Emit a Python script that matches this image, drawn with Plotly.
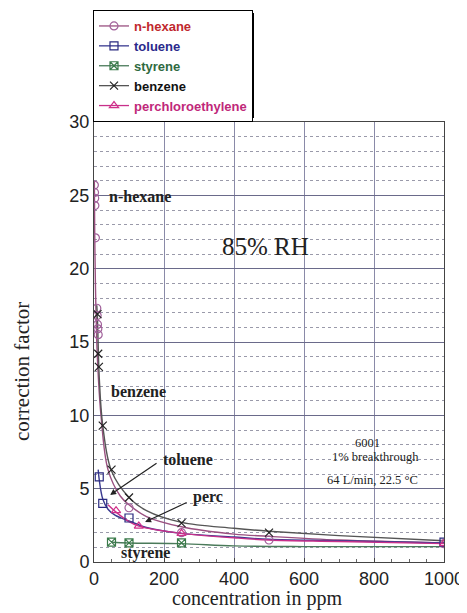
import plotly.graph_objects as go

hexane_x = [1, 1.5, 2, 2.5, 4, 8, 9, 10, 11, 12, 100, 250, 500, 1000]
hexane_y = [25.7, 25.2, 24.8, 24.3, 22.1, 17.3, 16.8, 16.2, 15.9, 15.5, 3.7, 2.0, 1.5, 1.25]

toluene_x = [15, 25, 100, 1000]
toluene_y = [5.8, 4.0, 3.0, 1.35]

styrene_x = [50, 100, 250]
styrene_y = [1.35, 1.3, 1.3]

benzene_x = [10, 12, 14, 25, 50, 100, 250, 500]
benzene_y = [16.9, 14.2, 13.3, 9.3, 6.3, 4.4, 2.65, 2.0]

perc_x = [63, 128, 250, 1000]
perc_y = [3.5, 2.45, 1.95, 1.25]

# ---- fitted curves as traced on the picture ----
hexane_fit_x = [1, 2, 4, 8, 12, 20, 40, 75, 100, 150, 250, 400, 500, 700, 1000]
hexane_fit_y = [26.0, 22.5, 19.0, 15.0, 12.8, 10.0, 6.3, 4.5, 3.9, 3.1, 2.4, 1.9, 1.75, 1.5, 1.3]

benzene_fit_x = [8, 10, 15, 25, 50, 100, 150, 250, 400, 500, 700, 1000]
benzene_fit_y = [17.5, 16.5, 12.6, 9.3, 6.2, 4.4, 3.5, 2.7, 2.3, 2.1, 1.8, 1.45]

toluene_fit_x = [12, 15, 25, 40, 60, 100, 150, 250, 400, 500, 700, 1000]
toluene_fit_y = [6.3, 5.6, 4.3, 3.6, 3.2, 2.8, 2.35, 1.95, 1.7, 1.55, 1.45, 1.3]

perc_fit_x = [40, 63, 100, 128, 250, 400, 500, 700, 1000]
perc_fit_y = [3.9, 3.4, 2.75, 2.45, 1.95, 1.65, 1.5, 1.4, 1.25]

styrene_fit_x = [50, 100, 250, 400, 600, 1000]
styrene_fit_y = [1.35, 1.3, 1.25, 1.1, 1.05, 1.05]

x_ticks = [0, 200, 400, 600, 800, 1000]
y_ticks = [0, 5, 10, 15, 20, 25, 30]

series = [
    # name, pts x, pts y, fit x, fit y, symbol, line colour, marker colour, legend text colour
    ("n-hexane", hexane_x, hexane_y, hexane_fit_x, hexane_fit_y, "circle-open", "#9a5080", "#a0609a", "#c0282d"),
    ("toluene", toluene_x, toluene_y, toluene_fit_x, toluene_fit_y, "square-open", "#3a3a90", "#2a2a80", "#2a2a8c"),
    ("styrene", styrene_x, styrene_y, styrene_fit_x, styrene_fit_y, "square-x-open", "#4a7a5a", "#3a7a4a", "#2f6a3f"),
    ("benzene", benzene_x, benzene_y, benzene_fit_x, benzene_fit_y, "x-thin-open", "#555555", "#222222", "#111111"),
    ("perchloroethylene", perc_x, perc_y, perc_fit_x, perc_fit_y, "triangle-up-open", "#c8308a", "#d0308a", "#c0287a"),
]

fig = go.Figure()
for name, xs, ys, fx, fy, sym, lcol, mcol, tcol in series:
    fig.add_trace(go.Scatter(x=fx, y=fy, mode="lines", line=dict(color=lcol, width=1.4, shape="spline"),
                             showlegend=False, legendgroup=name, hoverinfo="skip"))
for name, xs, ys, fx, fy, sym, lcol, mcol, tcol in series:
    fig.add_trace(go.Scatter(x=xs, y=ys, mode="markers", showlegend=False, legendgroup=name,
                             marker=dict(symbol=sym, size=8, color=mcol, line=dict(color=mcol, width=1.2))))
for name, xs, ys, fx, fy, sym, lcol, mcol, tcol in series:
    fig.add_trace(go.Scatter(x=[None], y=[None], mode="lines+markers", legendgroup=name,
                             name='<span style="color:%s"><b>%s</b></span>' % (tcol, name),
                             line=dict(color=lcol, width=1.3),
                             marker=dict(symbol=sym, size=8, color=mcol, line=dict(color=mcol, width=1.2))))

serif = "Liberation Serif, Times New Roman, serif"
sans = "Liberation Sans, Arial, sans-serif"
ann = []
def label(x, y, t, size=16, bold=True):
    ann.append(dict(x=x, y=y, xref="x", yref="y", text=("<b>%s</b>" % t) if bold else t,
                    showarrow=False, font=dict(family=serif, size=size, color="#222")))

label(131, 24.9, "n-hexane")
label(491, 21.5, "85% RH", size=25, bold=False)
label(126, 11.65, "benzene")
label(269, 7.0, "toluene")
label(326, 4.4, "perc")
label(146, 0.6, "styrene")
label(780, 8.1, "6001", size=12.5, bold=False)
label(803, 7.15, "1% breakthrough", size=12.5, bold=False)
label(797, 5.6, "64 L/min, 22.5 °C", size=12.5, bold=False)

ann.append(dict(x=46, y=4.57, ax=183, ay=6.8, xref="x", yref="y", axref="x", ayref="y",
                text="", showarrow=True, arrowhead=2, arrowsize=1, arrowwidth=1.2, arrowcolor="#222"))
ann.append(dict(x=146, y=2.73, ax=269, ay=4.1, xref="x", yref="y", axref="x", ayref="y",
                text="", showarrow=True, arrowhead=2, arrowsize=1, arrowwidth=1.2, arrowcolor="#222"))

# axis titles, placed where the reference has them
ann.append(dict(x=(257 - 94) / 350, y=(562 - 598) / 440, xref="paper", yref="paper",
                xanchor="center", yanchor="middle", borderpad=0,
                text="concentration in ppm", showarrow=False,
                font=dict(family=serif, size=20, color="#222")))
ann.append(dict(x=(22 - 94) / 350, y=(562 - 372) / 440, xref="paper", yref="paper",
                xanchor="center", yanchor="middle", borderpad=0,
                text="correction factor", showarrow=False, textangle=-90,
                font=dict(family=serif, size=21, color="#222")))

# page has an 8px body margin: figure is offset by 8px, so size it to fit the window
fig.update_layout(
    width=459, height=605,
    margin=dict(l=86, r=23, t=114, b=51, autoexpand=False),
    paper_bgcolor="white", plot_bgcolor="white",
    annotations=ann,
    showlegend=True,
    legend=dict(x=(93 - 94) / 350, y=(562 - 10) / 440,
                xanchor="left", yanchor="top",
                bgcolor="white", bordercolor="black", borderwidth=1,
                font=dict(family=sans, size=13),
                itemwidth=30, tracegroupgap=0),
    shapes=[dict(type="rect", xref="paper", yref="paper",
                 x0=(96 - 94) / 350, x1=(254 - 94) / 350,
                 y0=(562 - 118) / 440, y1=(562 - 13) / 440,
                 fillcolor="black", line=dict(width=0), layer="below")],
)

fig.update_xaxes(
    range=[0, 1000], tickvals=x_ticks, showline=True, mirror=True, linecolor="#444", linewidth=1,
    showgrid=True, gridcolor="#8a8aa8", gridwidth=1, zeroline=False, automargin=False,
    ticks="inside", ticklen=4, tickcolor="#444",
    minor=dict(dtick=50, ticks="inside", ticklen=3, tickcolor="#666", showgrid=False),
    tickfont=dict(family=sans, size=18, color="#222"),
)
fig.update_yaxes(
    range=[0, 30], tickvals=y_ticks, showline=True, mirror=True, linecolor="#444", linewidth=1,
    showgrid=True, gridcolor="#6a6a8a", gridwidth=1.3, zeroline=False, automargin=False,
    ticks="",
    minor=dict(dtick=1, showgrid=True, gridcolor="#9a9aaa", griddash="dot", gridwidth=1),
    tickfont=dict(family=sans, size=18, color="#222"),
)

fig.write_html("out.html")
